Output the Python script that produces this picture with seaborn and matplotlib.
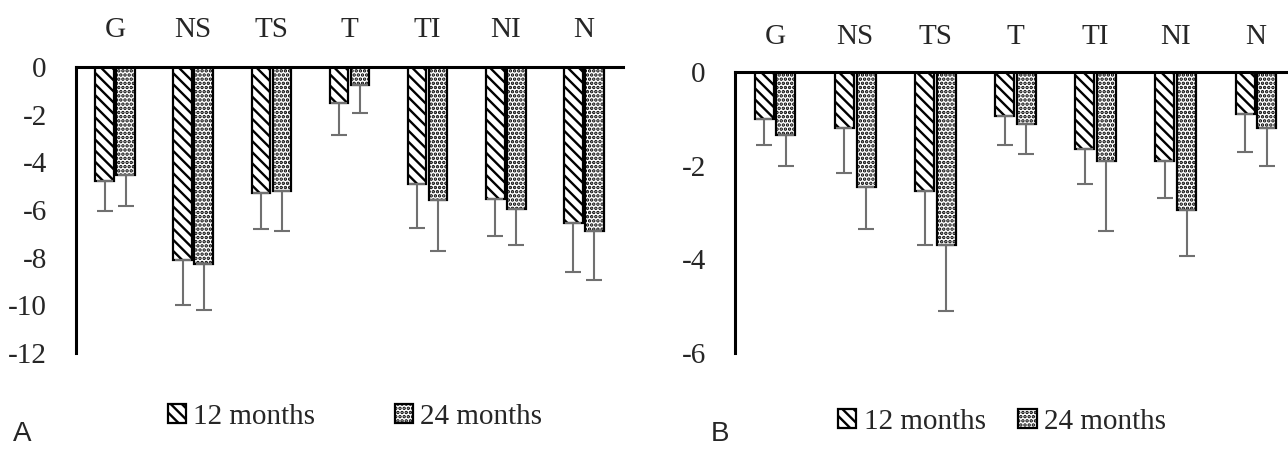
import numpy as np
import pandas as pd
import matplotlib
matplotlib.use("Agg")
import matplotlib.pyplot as plt
from matplotlib.patches import Patch
from matplotlib.container import BarContainer
import seaborn as sns

# ---------------- data ----------------
regions = ["G", "NS", "TS", "T", "TI", "NI", "N"]
periods = ["12 months", "24 months"]

a_12_mean = [-4.8, -8.1, -5.3, -1.5, -4.9, -5.55, -6.55]
a_12_sd = [1.25, 1.9, 1.5, 1.35, 1.85, 1.55, 2.05]
a_24_mean = [-4.55, -8.25, -5.2, -0.75, -5.6, -5.95, -6.9]
a_24_sd = [1.3, 1.95, 1.7, 1.2, 2.1, 1.5, 2.05]

b_12_mean = [-1.0, -1.2, -2.55, -0.95, -1.65, -1.9, -0.9]
b_12_sd = [0.55, 0.95, 1.15, 0.6, 0.75, 0.8, 0.8]
b_24_mean = [-1.35, -2.45, -3.7, -1.1, -1.9, -2.95, -1.2]
b_24_sd = [0.65, 0.9, 1.4, 0.65, 1.5, 0.98, 0.8]

a_yticks = [0, -2, -4, -6, -8, -10, -12]
b_yticks = [0, -2, -4, -6]
panel_labels = ["A", "B"]

# ---------------- style ----------------
sns.set_style("white")
plt.rcParams["font.family"] = ["Liberation Serif", "DejaVu Serif"]
plt.rcParams["axes.unicode_minus"] = False
plt.rcParams["hatch.linewidth"] = 1.7
plt.rcParams["hatch.color"] = "black"

FS = 21
W, H = 1288, 449
fig = plt.figure(figsize=(W / 100, H / 100), dpi=100)


def make_df(m12, m24):
    return pd.DataFrame({
        "region": regions * 2,
        "period": [periods[0]] * len(regions) + [periods[1]] * len(regions),
        "value": list(m12) + list(m24),
    })


hatches = ["\\\\\\", "...."]
err_color = "#707070"


def draw_panel(ax, m12, s12, m24, s24, ylim, yticks, xpad):
    df = make_df(m12, m24)
    sns.barplot(data=df, x="region", y="value", hue="period", order=regions,
                hue_order=periods, ax=ax, width=0.54, gap=0.12,
                palette=["white", "white"], saturation=1, edgecolor="black",
                linewidth=1.6, errorbar=None, legend=False)
    sds = [s12, s24]
    bar_conts = [c for c in ax.containers if isinstance(c, BarContainer)]
    for ci, cont in enumerate(bar_conts):
        xs, ys = [], []
        for bar in cont:
            bar.set_hatch(hatches[ci])
            bar.set_edgecolor("black")
            xs.append(bar.get_x() + bar.get_width() / 2)
            ys.append(bar.get_height())
        sd = np.array(sds[ci])
        ax.errorbar(xs, ys, yerr=[sd, np.zeros_like(sd)], fmt="none",
                    ecolor=err_color, elinewidth=1.5, capsize=5.8,
                    capthick=1.5, zorder=1)
    ax.set_ylim(*ylim)
    ax.set_yticks(yticks)
    ax.set_yticklabels([str(t) for t in yticks])
    ax.set_xlim(-0.5, len(regions) - 0.5)
    ax.xaxis.tick_top()
    ax.tick_params(axis="x", length=0, pad=xpad, labelsize=FS)
    ax.tick_params(axis="y", length=0, pad=21, labelsize=FS)
    ax.set_xlabel("")
    ax.set_ylabel("")
    for s in ["bottom", "right"]:
        ax.spines[s].set_visible(False)
    for s in ["top", "left"]:
        ax.spines[s].set_visible(True)
        ax.spines[s].set_linewidth(2.2)
        ax.spines[s].set_color("black")
    ax.grid(False)


axA = fig.add_axes([76 / W, 1 - 353 / H, 547 / W, (353 - 67) / H])
draw_panel(axA, a_12_mean, a_12_sd, a_24_mean, a_24_sd, (-12, 0), a_yticks, 17)

axB = fig.add_axes([735 / W, 1 - 353 / H, 561 / W, (353 - 72) / H])
draw_panel(axB, b_12_mean, b_12_sd, b_24_mean, b_24_sd, (-6, 0), b_yticks, 16)


def legend_handles():
    return [Patch(facecolor="white", edgecolor="black", hatch=h, linewidth=1.6)
            for h in hatches]


fig.legend(legend_handles(), periods, loc="center",
           bbox_to_anchor=(355 / W, 1 - 417 / H), ncol=2, frameon=False,
           fontsize=FS, handlelength=0.62, handleheight=0.62, handletextpad=0.25,
           columnspacing=2.75)
fig.legend(legend_handles(), periods, loc="center",
           bbox_to_anchor=(1002 / W, 1 - 422 / H), ncol=2, frameon=False,
           fontsize=FS, handlelength=0.62, handleheight=0.62, handletextpad=0.25,
           columnspacing=1.13)

fig.text(22 / W, 1 - 447 / H, panel_labels[0], ha="center", va="bottom",
         fontsize=20, family=["Liberation Sans", "DejaVu Sans"])
fig.text(720 / W, 1 - 447 / H, panel_labels[1], ha="center", va="bottom",
         fontsize=20, family=["Liberation Sans", "DejaVu Sans"])

fig.savefig("out.png", dpi=100, facecolor="white")
